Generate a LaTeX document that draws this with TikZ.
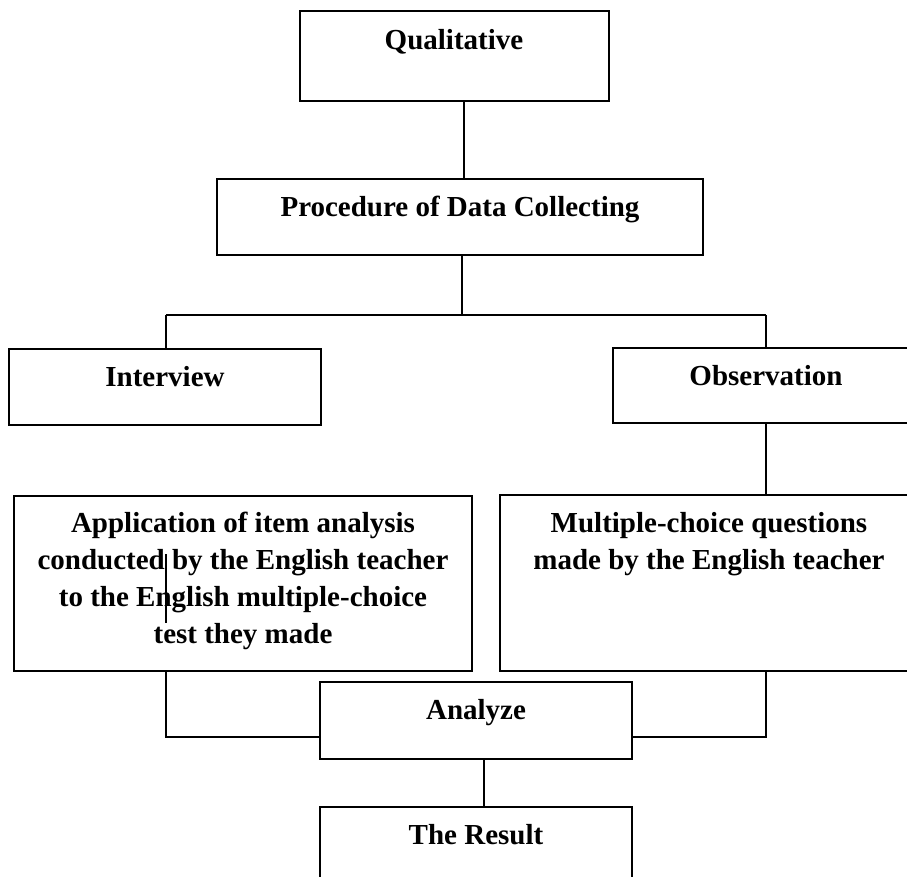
\documentclass[tikz,border=0pt]{standalone}
\usepackage{fontspec}
\setmainfont{Liberation Serif}
\usetikzlibrary{fit}
\begin{document}
\begin{tikzpicture}[x=0.75pt,y=-0.75pt,
  box/.style={draw, line width=1pt, inner sep=0pt},
  lbl/.style={font=\bfseries\fontsize{21.75pt}{27.75pt}\selectfont, anchor=base, inner sep=0pt, align=center},
  conn/.style={line width=0.8pt}]
\useasboundingbox (0,0) rectangle (907,877);
\clip (0,0) rectangle (907,877);
% boxes
\node[box, fit={(300,11) (609,101)}] (qual) {};
\node[box, fit={(217,179) (703,255)}] (proc) {};
\node[box, fit={(9,349) (321,425)}] (intv) {};
\node[box, fit={(613,348) (918,423)}] (obs) {};
\node[box, fit={(14,496) (472,671)}] (app) {};
\node[box, fit={(500,495) (918,671)}] (mcq) {};
\node[box, fit={(320,682) (632,759)}] (anl) {};
\node[box, fit={(320,807) (632,900)}] (res) {};
% texts (multi-line: base anchor is the last line)
\node[lbl] (tqual) at (454,50) {Qualitative};
\node[lbl] (tproc) at (460,217) {Procedure of Data Collecting};
\node[lbl] (tintv) at (165,387) {Interview};
\node[lbl] (tobs) at (766,386) {Observation};
\node[lbl] (tapp) at (243,643) {Application of item analysis\\conducted by the English teacher\\to the English multiple-choice\\test they made};
\node[lbl] (tmcq) at (709,569) {Multiple-choice questions\\made by the English teacher};
\node[lbl] (tanl) at (476,719) {Analyze};
\node[lbl] (tres) at (476,844) {The Result};
% helper coordinates
\coordinate (xq) at (464,0);
\coordinate (xp) at (462,315);
\coordinate (bl) at (166,315);
\coordinate (br) at (766,315);
\coordinate (jl) at (166,737);
\coordinate (jr) at (766,737);
\coordinate (xa) at (484,0);
\coordinate (s1) at (166,554);
\coordinate (s2) at (166,623);
% connectors
\draw[conn] (qual.south -| xq) -- (proc.north -| xq);
\draw[conn] (proc.south -| xp) -- (xp);
\draw[conn] (bl) -- (br);
\draw[conn] (bl) -- (intv.north -| bl);
\draw[conn] (br) -- (obs.north -| br);
\draw[conn] (obs.south -| br) -- (mcq.north -| br);
\draw[conn] (s1) -- (s2);
\draw[conn] (app.south -| jl) -- (jl) -- (anl.west |- jl);
\draw[conn] (mcq.south -| jr) -- (jr) -- (anl.east |- jr);
\draw[conn] (anl.south -| xa) -- (res.north -| xa);
\end{tikzpicture}
\end{document}
